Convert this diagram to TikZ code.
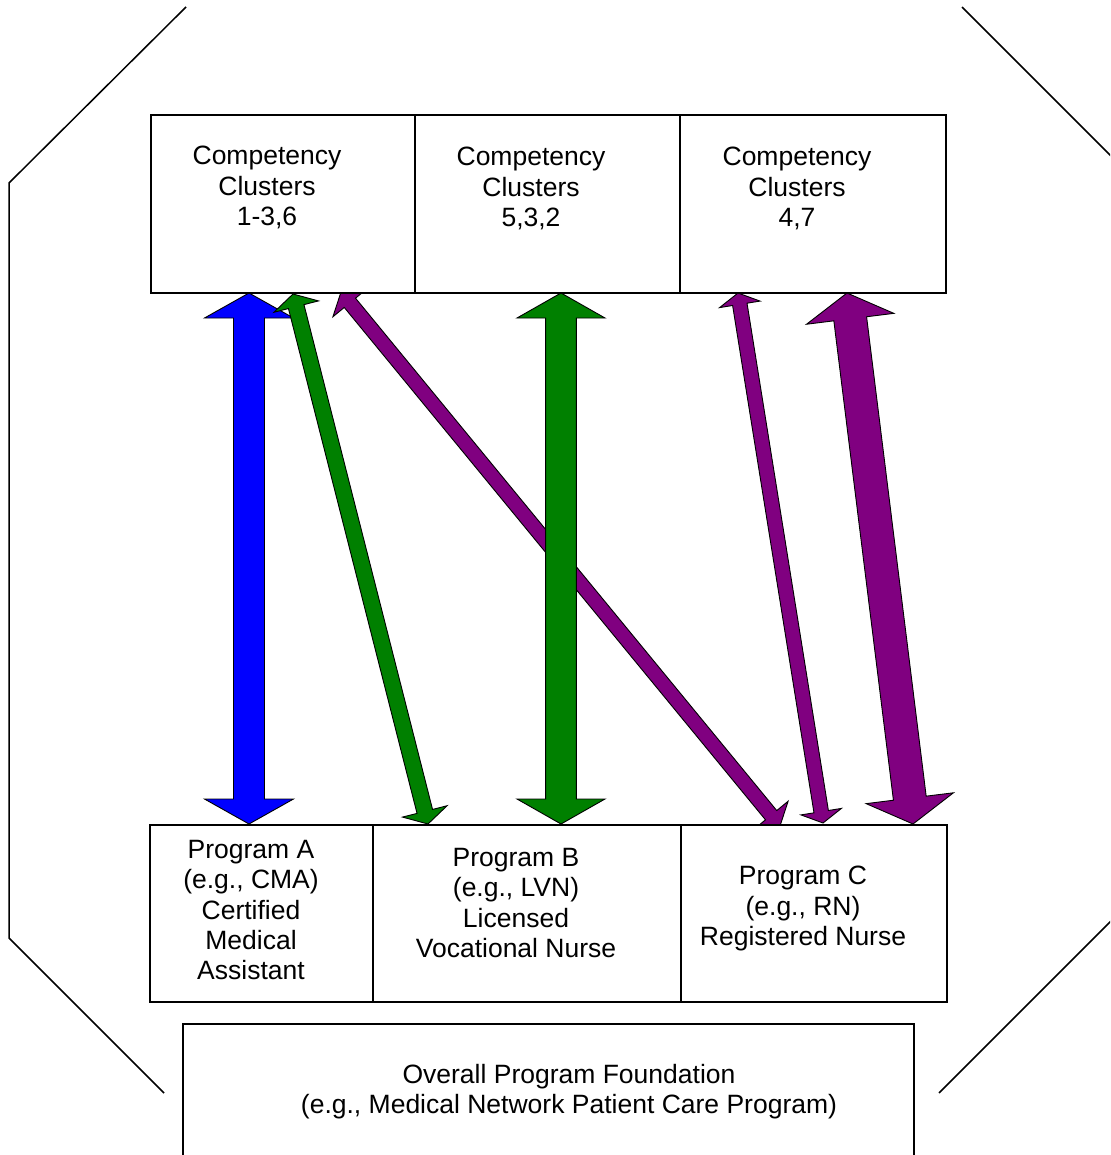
\documentclass[tikz,border=0pt]{standalone}
\usepackage{fontspec}
\setmainfont{Liberation Sans}
\usetikzlibrary{calc}
\definecolor{ablue}{HTML}{0000FF}
\definecolor{agreen}{HTML}{008000}
\definecolor{apurple}{HTML}{800080}
\newcommand{\blockarrow}[6]{%
  \coordinate (ba1) at ($(#1)!#5!(#2)$);
  \coordinate (ba2) at ($(#2)!#5!(#1)$);
  \draw[arrowline, fill=#6] (#1) -- ($(ba1)!#4!90:(#2)$) -- ($(ba1)!#3!90:(#2)$)
    -- ($(ba2)!#3!-90:(#1)$) -- ($(ba2)!#4!-90:(#1)$) -- (#2)
    -- ($(ba2)!#4!90:(#1)$) -- ($(ba2)!#3!90:(#1)$)
    -- ($(ba1)!#3!-90:(#2)$) -- ($(ba1)!#4!-90:(#2)$) -- cycle;}
\tikzset{
  arrowline/.style={draw=black, line width=0.9pt, line join=miter},
  boxstyle/.style={draw=black, fill=white, line width=1.8pt},
  lbl/.style={inner sep=0pt, align=center, anchor=north, font=\fontsize{26.5}{30.3}\selectfont},
  frame/.style={draw=black, line width=1.5pt}
}
\begin{document}
\begin{tikzpicture}[x=1pt, y=-1pt]
\useasboundingbox (0,0) rectangle (1110,1155);
\clip (0,0) rectangle (1110,1155);
% outer octagon fragments
\draw[frame] (186,7) -- (9,183) -- (9,938) -- (164,1093);
\draw[frame] (962,7) -- (1140,185);
\draw[frame] (939,1093) -- (1140,892);
% arrow end points
\coordinate (blueT) at (249,293);
\coordinate (blueB) at (249,824);
\coordinate (gthinT) at (293,294);
\coordinate (gthinB) at (428,824);
\coordinate (plongT) at (341,292);
\coordinate (plongB) at (780,826);
\coordinate (gvertT) at (561,293);
\coordinate (gvertB) at (561,824);
\coordinate (pthinT) at (738,293);
\coordinate (pthinB) at (823,823);
\coordinate (pthickT) at (847,293);
\coordinate (pthickB) at (913,824);
% arrows
\blockarrow{blueT}{blueB}{15.5pt}{44.5pt}{25pt}{ablue}
\blockarrow{plongT}{plongB}{7.3pt}{22pt}{14pt}{apurple}
\blockarrow{gthinT}{gthinB}{8pt}{23pt}{13pt}{agreen}
\blockarrow{gvertT}{gvertB}{15.4pt}{44pt}{25pt}{agreen}
\blockarrow{pthinT}{pthinB}{7.3pt}{20.5pt}{11.5pt}{apurple}
\blockarrow{pthickT}{pthickB}{16.5pt}{44pt}{26pt}{apurple}
% top boxes
\path[boxstyle] (151,115) rectangle (415,293) coordinate (c1);
\path[boxstyle] (415,115) rectangle (680,293) coordinate (c2);
\path[boxstyle] (680,115) rectangle (946,293) coordinate (c3);
\node[lbl] (t1) at (267,146) {Competency\\Clusters\\1-3,6};
\node[lbl] (t2) at (531,147) {Competency\\Clusters\\5,3,2};
\node[lbl] (t3) at (797,147) {Competency\\Clusters\\4,7};
% bottom boxes
\path[boxstyle] (150,825) rectangle (373,1002) coordinate (p1);
\path[boxstyle] (373,825) rectangle (681,1002) coordinate (p2);
\path[boxstyle] (681,825) rectangle (947,1002) coordinate (p3);
\node[lbl] (pa) at (251,840) {Program A\\(e.g., CMA)\\Certified\\Medical\\Assistant};
\node[lbl] (pb) at (516,848) {Program B\\(e.g., LVN)\\Licensed\\Vocational Nurse};
\node[lbl] (pc) at (803,866) {Program C\\(e.g., RN)\\Registered Nurse};
% foundation
\path[boxstyle] (183,1024) rectangle (914,1165) coordinate (f1);
\node[lbl] (fd) at (569,1064) {Overall Program Foundation\\(e.g., Medical Network Patient Care Program)};
\end{tikzpicture}
\end{document}
